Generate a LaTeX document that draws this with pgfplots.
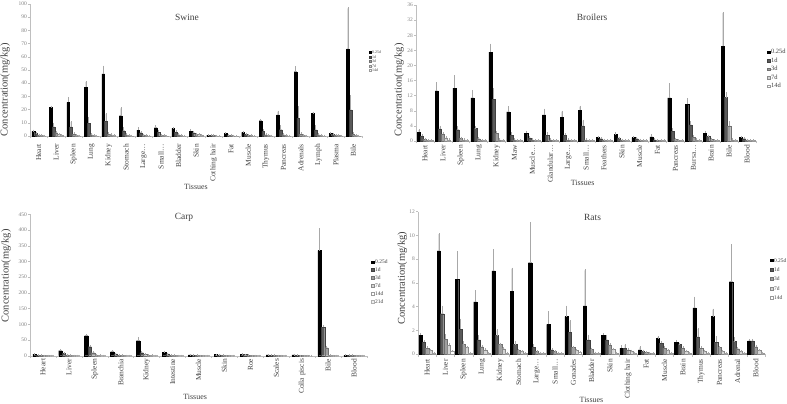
\documentclass[border=0pt]{standalone}
\usepackage{fontspec}
\setmainfont{Liberation Serif}
\usepackage{pgfplots}
\usepackage{pgfplotstable}
\pgfplotsset{compat=1.18}
\definecolor{c2}{HTML}{5A5A5A}
\definecolor{c2d}{HTML}{404040}
\definecolor{c3}{HTML}{A0A0A0}
\definecolor{c3d}{HTML}{707070}
\definecolor{c4}{HTML}{D5D5D5}
\definecolor{c4d}{HTML}{8A8A8A}
\definecolor{c5d}{HTML}{9A9A9A}
\definecolor{c6}{HTML}{F0F0F0}
\definecolor{c6d}{HTML}{B0B0B0}
\definecolor{axg}{HTML}{BFBFBF}
\definecolor{txg}{HTML}{808080}
\definecolor{lab}{HTML}{404040}
\definecolor{errg}{HTML}{A8A8A8}

\pgfplotsset{
  panel/.style={
    scale only axis, ybar=0pt, anchor=south west, ymin=0,
    enlargelimits=false, clip=false,
    axis x line*=bottom, axis y line*=left,
    axis line style={draw=axg, line width=0.4bp, -},
    tick align=outside, major tick length=2bp, minor tick length=2.5bp,
    major x tick style={draw=none},
    minor x tick style={draw=axg, line width=0.4bp},
    y tick style={draw=axg, line width=0.4bp},
    xtick=data,
    yticklabel style={font=\fontsize{5.5}{6}\selectfont, text=txg, inner sep=1bp},
    /pgf/number format/assume math mode=true,
    xticklabel style={font=\fontsize{7.5}{9}\selectfont, text=lab, rotate=90, anchor=east, inner sep=0pt},
    error bars/y dir=plus, error bars/y explicit,
    error bars/error bar style={draw=errg, line width=0.35bp},
    error bars/error mark options={draw=errg, line width=0.35bp, mark size=1bp},
    legend style={draw=none, fill=none, text=lab, anchor=north west,
      inner sep=0pt, nodes={inner sep=0.3bp, text height=3.6bp, text depth=0bp},
      /tikz/every odd column/.style={column sep=0.6bp}},
    legend cell align=left,
    legend image code/.code={\draw[#1] (0bp,-1.4bp) rectangle (2.8bp,1.4bp);},
  },
  s1/.style={fill=black, draw=black, line width=0.3bp},
  s2/.style={fill=c2, draw=c2d, line width=0.3bp},
  s3/.style={fill=c3, draw=c3d, line width=0.3bp},
  s4/.style={fill=c4, draw=c4d, line width=0.3bp},
  s5/.style={fill=white, draw=c5d, line width=0.3bp},
  s6/.style={fill=c6, draw=c6d, line width=0.3bp},
}

\newcommand{\fiveplots}[1]{%
  \addplot[s1] table[x=x,y=a,y error=ea]{#1};
  \addplot[s2] table[x=x,y=b,y error=eb]{#1};
  \addplot[s3] table[x=x,y=c,y error=ec]{#1};
  \addplot[s4] table[x=x,y=d,y error=ed]{#1};
  \addplot[s5] table[x=x,y=f,y error=ef]{#1};
}

% Swine
\pgfplotstableread{
x a ea b eb c ec d ed f ef
0 3.5 0.5 2.0 0.4 0.8 0.2 0.4 0.1 0.2 0.05
1 21.5 0.8 7.0 2.3 2.5 0.5 1.2 0.3 0.5 0.1
2 25.5 3.3 7.0 3.5 1.5 0.4 0.5 0.2 0.2 0.1
3 37.0 4.0 9.6 4.4 1.0 0.3 0.5 0.2 0.2 0.1
4 47.0 5.5 11.0 5.5 1.5 0.5 1.0 0.3 0.5 0.1
5 15.4 5.6 4.0 2.0 1.0 0.3 0.5 0.2 0.2 0.1
6 4.5 1.3 2.5 0.6 0.8 0.2 0.3 0.1 0.1 0.05
7 6.3 1.2 3.0 1.0 0.5 0.2 0.3 0.1 0.1 0.05
8 5.8 0.4 3.0 0.5 1.0 0.2 0.5 0.1 0.2 0.05
9 3.5 1.0 2.5 0.5 1.5 0.3 1.2 0.2 0.3 0.1
10 0.4 0.1 0.3 0.1 0.3 0.1 0.2 0.05 0.1 0.05
11 1.8 0.3 0.6 0.1 0.3 0.1 0.2 0.05 0.1 0.05
12 2.8 0.4 1.5 0.3 0.5 0.1 0.3 0.1 0.1 0.05
13 11.6 0.6 3.5 1.0 1.0 0.2 0.5 0.1 0.2 0.05
14 16.0 2.5 4.8 2.7 1.0 0.3 0.5 0.1 0.2 0.05
15 48.7 3.3 13.6 8.1 1.5 0.5 0.5 0.2 0.2 0.1
16 17.2 0.5 4.6 2.9 1.0 0.3 0.4 0.1 0.2 0.05
17 2.2 0.3 1.5 0.3 0.8 0.2 0.3 0.1 0.1 0.05
18 66.0 30.7 19.7 10.3 1.5 0.5 0.5 0.2 0.2 0.1
}\swine

% Broilers
\pgfplotstableread{
x a ea b eb c ec d ed f ef
0 2.3 0.6 1.2 0.3 0.4 0.1 0.2 0.05 0.1 0.05
1 13.3 2.0 3.2 0.6 1.8 0.3 0.8 0.2 0.3 0.1
2 14.0 3.2 3.0 0.6 0.7 0.2 0.3 0.1 0.1 0.05
3 11.4 1.9 3.3 0.4 0.6 0.1 0.2 0.05 0.1 0.05
4 23.5 2.0 11.0 2.7 2.0 0.3 0.3 0.1 0.1 0.05
5 7.7 1.2 1.5 0.6 0.3 0.1 0.2 0.05 0.1 0.05
6 2.0 0.5 0.8 0.2 0.3 0.1 0.1 0.05 0.1 0.05
7 6.9 1.4 1.5 0.5 0.3 0.1 0.1 0.05 0.1 0.05
8 6.3 1.5 1.5 0.3 0.3 0.1 0.1 0.05 0.1 0.05
9 8.2 0.9 4.0 1.4 0.3 0.1 0.1 0.05 0.1 0.05
10 1.0 0.1 0.6 0.1 0.3 0.05 0.1 0.05 0.1 0.05
11 1.7 0.4 0.8 0.1 0.3 0.05 0.1 0.05 0.1 0.05
12 0.9 0.2 0.6 0.1 0.3 0.05 0.1 0.05 0.1 0.05
13 1.1 0.4 0.3 0.1 0.2 0.05 0.1 0.05 0.1 0.05
14 11.4 3.6 2.6 0.5 0.5 0.1 0.2 0.05 0.1 0.05
15 9.7 1.3 4.3 0.7 1.0 0.3 0.3 0.1 0.1 0.05
16 2.1 0.4 1.2 0.2 0.5 0.1 0.2 0.05 0.1 0.05
17 25.1 8.8 11.5 1.1 4.0 1.0 0.3 0.1 0.1 0.05
18 0.9 0.1 0.6 0.1 0.3 0.05 0.1 0.05 0.1 0.05
}\broilers

% Carp
\pgfplotstableread{
x a ea b eb c ec d ed f ef g eg
0 5.3 0.5 2.0 0.3 1.0 0.2 0.5 0.1 0.3 0.1 0.2 0.1
1 16.0 1.0 7.0 0.5 3.0 0.3 1.0 0.2 0.5 0.1 0.3 0.1
2 63.7 2.5 28.6 1.5 9.5 1.0 3.0 0.5 1.0 0.2 0.5 0.1
3 12.7 1.0 6.0 0.5 2.0 0.3 1.0 0.2 0.5 0.1 0.3 0.1
4 47.8 9.0 9.5 1.0 5.0 0.5 2.0 0.3 1.0 0.2 0.5 0.1
5 11.7 1.0 5.5 0.5 2.0 0.3 1.0 0.2 0.5 0.1 0.3 0.1
6 2.5 0.3 2.0 0.2 1.0 0.1 0.5 0.1 0.3 0.1 0.2 0.1
7 3.5 0.3 2.5 0.2 1.0 0.1 0.5 0.1 0.3 0.1 0.2 0.1
8 4.5 0.4 3.5 0.3 1.5 0.2 0.5 0.1 0.3 0.1 0.2 0.1
9 2.5 0.3 2.0 0.2 1.0 0.1 0.5 0.1 0.3 0.1 0.2 0.1
10 3.0 0.3 1.0 0.1 0.5 0.1 0.3 0.1 0.2 0.1 0.1 0.1
11 334.5 67.5 90.0 5.0 25.5 1.5 1.0 0.3 0.5 0.1 0.3 0.1
12 2.0 0.2 1.5 0.2 1.0 0.1 0.5 0.1 0.3 0.1 0.2 0.1
}\carp

% Rats
\pgfplotstableread{
x a ea b eb c ec d ed f ef
0 1.6 0.1 1.0 0.08 0.5 0.05 0.3 0.03 0.1 0.02
1 8.7 1.4 3.4 0.6 1.25 0.35 0.75 0.08 0.2 0.03
2 6.3 2.3 2.1 0.8 0.8 0.2 0.55 0.05 0.1 0.02
3 4.4 0.9 1.2 0.3 0.6 0.05 0.35 0.04 0.1 0.02
4 7.0 1.75 1.55 0.45 0.8 0.08 0.45 0.05 0.1 0.02
5 5.3 1.9 0.8 0.25 0.3 0.04 0.2 0.03 0.05 0.02
6 7.7 3.35 0.55 0.2 0.2 0.03 0.1 0.02 0.05 0.02
7 2.5 1.0 0.35 0.05 0.2 0.03 0.1 0.02 0.05 0.02
8 3.15 0.85 1.85 0.9 0.55 0.08 0.3 0.04 0.15 0.02
9 4.05 3.0 1.2 0.35 0.4 0.05 0.1 0.02 0.05 0.02
10 1.6 0.1 1.2 0.3 0.75 0.08 0.4 0.05 0.1 0.02
11 0.5 0.15 0.5 0.25 0.35 0.05 0.25 0.03 0.1 0.02
12 0.35 0.2 0.25 0.03 0.15 0.02 0.1 0.02 0.05 0.02
13 1.3 0.15 0.9 0.08 0.5 0.05 0.3 0.03 0.1 0.02
14 1.0 0.1 0.8 0.08 0.5 0.05 0.25 0.03 0.1 0.02
15 3.9 0.85 1.45 0.65 0.5 0.05 0.25 0.03 0.05 0.02
16 3.15 0.6 1.0 0.4 0.55 0.05 0.25 0.03 0.05 0.02
17 6.1 3.05 1.05 0.3 0.45 0.05 0.2 0.03 0.05 0.02
18 1.1 0.1 1.1 0.1 0.6 0.05 0.3 0.03 0.1 0.02
}\rats

\begin{document}
\begin{tikzpicture}
\useasboundingbox (0,0) rectangle (787bp,404bp);

% ---------------- Swine ----------------
\begin{axis}[panel, at={(30bp,268bp)}, width=332bp, height=132bp,
  xmin=-0.5, xmax=18.5, ymax=100, ytick={0,10,...,100},
  minor xtick={-0.5,0.5,...,18.5}, bar width=2.7bp, xticklabel shift=6bp,
  xticklabels={Heart,Liver,Spleen,Lung,Kidney,Stomach,Large\ldots,Small\ldots,Bladder,Skin,Cothing hair,Fat,Muscle,Thymus,Pancreas,Adrenals,Lymph,Plasma,Bile},
  legend style={at={(rel axis cs:1.02,0.648)}, font=\fontsize{4}{4.5}\selectfont, row sep=1.1bp,
    nodes={inner sep=0.3bp, text height=2.8bp, text depth=0bp}},
  legend image code/.code={\draw[#1] (0bp,-1bp) rectangle (2bp,1bp);},
]
\fiveplots{\swine}
\legend{0.25d,1d,3d,7d,14d}
\node[font=\fontsize{9.5}{11}\selectfont, text=lab, yshift=-13bp] at (rel axis cs:0.473,1) {Swine};
\node[font=\fontsize{8}{9}\selectfont, text=lab, yshift=-51bp] at (rel axis cs:0.5,0) {Tissues};
\node[rotate=90, font=\fontsize{10.5}{12}\selectfont, text=lab] at (rel axis cs:-0.075,0.35) {Concentration(mg/kg)};
\end{axis}

% ---------------- Broilers ----------------
\begin{axis}[panel, at={(416bp,263bp)}, width=340bp, height=136bp,
  xmin=-0.5, xmax=18.5, ymax=36, ytick={0,4,...,36},
  minor xtick={-0.5,0.5,...,18.5}, bar width=3.1bp, xticklabel shift=2bp,
  xticklabels={Heart,Liver,Spleen,Lung,Kidney,Maw,Muscle\ldots,Glandular\ldots,Large\ldots,Small\ldots,Feathers,Skin,Muscle,Fat,Pancreas,Bursa\ldots,Brain,Bile,Blood},
  legend style={at={(rel axis cs:1.032,0.67)}, font=\fontsize{6.5}{7}\selectfont, row sep=4.3bp},
]
\fiveplots{\broilers}
\legend{0.25d,1d,3d,7d,14d}
\node[font=\fontsize{9.5}{11}\selectfont, text=lab, yshift=-12bp] at (rel axis cs:0.518,1) {Broilers};
\node[font=\fontsize{8}{9}\selectfont, text=lab, yshift=-42bp] at (rel axis cs:0.49,0) {Tissues};
\node[rotate=90, font=\fontsize{10.5}{12}\selectfont, text=lab] at (rel axis cs:-0.05,0.375) {Concentration(mg/kg)};
\end{axis}

% ---------------- Carp ----------------
\begin{axis}[panel, at={(30bp,48.3bp)}, width=337bp, height=141.4bp,
  xmin=-0.5, xmax=12.5, ymax=450, ytick={0,50,...,450},
  minor xtick={-0.5,0.5,...,12.5}, bar width=3.4bp, xticklabel shift=1bp,
  xticklabels={Heart,Liver,Spleen,Branchia,Kidney,Intestine,Muscle,Skin,Roe,Scales,Colla piscis,Bile,Blood},
  legend style={at={(rel axis cs:1.012,0.678)}, font=\fontsize{5.5}{6}\selectfont, row sep=3.7bp},
]
\fiveplots{\carp}
\addplot[s6] table[x=x,y=g,y error=eg]{\carp};
\legend{0.25d,1d,3d,7d,14d,21d}
\node[font=\fontsize{9.5}{11}\selectfont, text=lab, yshift=-3bp] at (rel axis cs:0.457,1) {Carp};
\node[font=\fontsize{8}{9}\selectfont, text=lab, yshift=-41bp] at (rel axis cs:0.49,0) {Tissues};
\node[rotate=90, font=\fontsize{10.5}{12}\selectfont, text=lab] at (rel axis cs:-0.071,0.564) {Concentration(mg/kg)};
\end{axis}

% ---------------- Rats ----------------
\begin{axis}[panel, at={(418bp,50bp)}, width=347bp, height=142.3bp,
  xmin=-0.5, xmax=18.5, ymax=12, ytick={0,2,...,12},
  minor xtick={-0.5,0.5,...,18.5}, bar width=3.3bp, xticklabel shift=3bp,
  xticklabels={Heart,Liver,Spleen,Lung,Kidney,Stomach,Large\ldots,Small\ldots,Gonades,Bladder,Skin,Clothing hair,Fat,Muscle,Brain,Thymus,Pancreas,Adrenal,Blood},
  legend style={at={(rel axis cs:1.014,0.675)}, font=\fontsize{5.5}{6}\selectfont, row sep=5.2bp},
]
\fiveplots{\rats}
\legend{0.25d,1d,3d,7d,14d}
\node[font=\fontsize{9.5}{11}\selectfont, text=lab, yshift=-5.6bp] at (rel axis cs:0.503,1) {Rats};
\node[font=\fontsize{8}{9}\selectfont, text=lab, yshift=-46bp] at (rel axis cs:0.5,0) {Tissues};
\node[rotate=90, font=\fontsize{10.5}{12}\selectfont, text=lab] at (rel axis cs:-0.045,0.534) {Concentration(mg/kg)};
\end{axis}
\end{tikzpicture}
\end{document}
